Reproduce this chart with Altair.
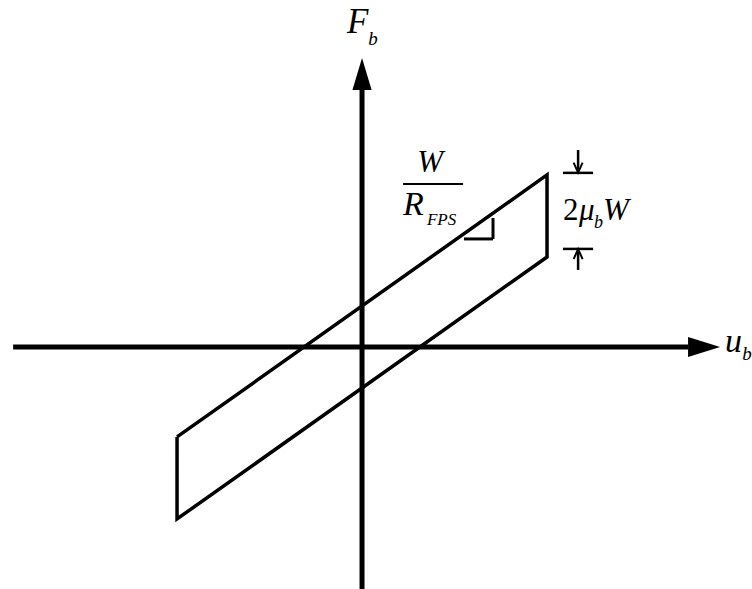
import altair as alt
import pandas as pd

# Friction pendulum bearing: force-displacement hysteresis loop.
# Displacement is normalised by the maximum displacement, force by the peak force.
loop_u = [-1.0, 1.0, 1.0, -1.0, -1.0]
loop_F = [-0.523, 1.0, 0.523, -1.0, -0.523]

# Coordinate axes (drawn as arrows through the origin)
axis_u0 = [-1.886, 0.0]
axis_u1 = [1.762, 0.0]
axis_F0 = [0.0, -1.55]
axis_F1 = [0.0, 1.494]

# Slope marker under the loading branch
slope_u0 = [0.551, 0.708]
slope_u1 = [0.708, 0.708]
slope_F0 = [0.628, 0.628]
slope_F1 = [0.628, 0.750]

# Dimension line for the loop height 2*mu*W
dim_u0 = [1.086, 1.086, 1.168, 1.168]
dim_u1 = [1.249, 1.249, 1.168, 1.168]
dim_F0 = [1.012, 0.570, 1.145, 0.448]
dim_F1 = [1.012, 0.570, 1.030, 0.552]

# Fraction bar of W / R_FPS
frac_u0 = [0.222]
frac_u1 = [0.546]
frac_F = [0.948]

X_DOMAIN = [-1.957, 2.108]
Y_DOMAIN = [-1.407, 2.017]
SERIF = "Liberation Serif"


def xs(field):
    return alt.X(field, type="quantitative",
                 scale=alt.Scale(domain=X_DOMAIN, nice=False, zero=False), axis=None)


def ys(field):
    return alt.Y(field, type="quantitative",
                 scale=alt.Scale(domain=Y_DOMAIN, nice=False, zero=False), axis=None)


def segments(u0, u1, F0, F1, width):
    df = pd.DataFrame({"u0": u0, "u1": u1, "F0": F0, "F1": F1})
    return alt.Chart(df).mark_rule(color="black", strokeWidth=width, strokeCap="butt").encode(
        x=xs("u0"), x2="u1", y=ys("F0"), y2="F1")


axes = segments(axis_u0, axis_u1, axis_F0, axis_F1, 5)
slope = segments(slope_u0, slope_u1, slope_F0, slope_F1, 3)
dims = segments(dim_u0, dim_u1, dim_F0, dim_F1, 2.5)
frac = segments(frac_u0, frac_u1, frac_F, frac_F, 2)

loop_df = pd.DataFrame({"u": loop_u, "F": loop_F, "i": list(range(len(loop_u)))})
loop = alt.Chart(loop_df).mark_line(color="black", strokeWidth=3.5, strokeJoin="miter").encode(
    x=xs("u"), y=ys("F"), order="i:O")

# Arrowheads
right_head = alt.Chart(pd.DataFrame({"u": [1.849], "F": [0.0]})).mark_point(
    shape="M-1,-0.62L1,0L-1,0.62Z", size=1024, filled=True, color="black", opacity=1
).encode(x=xs("u"), y=ys("F"))
up_head = alt.Chart(pd.DataFrame({"u": [0.0], "F": [1.587]})).mark_point(
    shape="M-0.6,1L0,-1L0.6,1Z", size=1024, filled=True, color="black", opacity=1
).encode(x=xs("u"), y=ys("F"))
down_tick = alt.Chart(pd.DataFrame({"u": [1.168], "F": [1.043]})).mark_point(
    shape="M-0.9,-1L0,1L0.9,-1", size=100, filled=False, color="black", strokeWidth=2, opacity=1
).encode(x=xs("u"), y=ys("F"))
up_tick = alt.Chart(pd.DataFrame({"u": [1.168], "F": [0.540]})).mark_point(
    shape="M-0.9,1L0,-1L0.9,1", size=100, filled=False, color="black", strokeWidth=2, opacity=1
).encode(x=xs("u"), y=ys("F"))

# Labels
lab_text = ["F", "b", "u", "b", "W", "R", "FPS", "μ", "b", "W"]
lab_u = [-0.081, 0.033, 1.962, 2.055, 0.368, 0.222, 0.351, 1.173, 1.254, 1.303]
lab_F = [1.826, 1.755, -0.029, -0.075, 1.017, 0.767, 0.709, 0.738, 0.692, 0.738]
lab_size = [35, 19, 34, 19, 31, 34, 17, 31, 18, 31]
lab_align = ["left", "left", "left", "left", "center", "left", "left", "left", "left", "left"]

lab_df = pd.DataFrame({"t": lab_text, "u": lab_u, "F": lab_F, "s": lab_size, "a": lab_align})


def label_layer(align):
    return alt.Chart(lab_df[lab_df["a"] == align]).mark_text(
        font=SERIF, fontStyle="italic", baseline="alphabetic", align=align, color="black"
    ).encode(x=xs("u"), y=ys("F"), text="t:N", size=alt.Size("s:Q", scale=None))


labels_left = label_layer("left")
labels_center = label_layer("center")

two = alt.Chart(pd.DataFrame({"t": ["2"], "u": [1.086], "F": [0.738]})).mark_text(
    font=SERIF, fontSize=31, baseline="alphabetic", align="left", color="black"
).encode(x=xs("u"), y=ys("F"), text="t:N")

chart = alt.layer(
    axes, loop, slope, dims, frac, right_head, up_head, down_tick, up_tick,
    labels_left, labels_center, two
).properties(
    width=752, height=589, padding=0, autosize=alt.AutoSizeParams(type="none"),
    background="white"
).configure_view(stroke=None)

chart.save("out.html", embed_options={"renderer": "svg", "actions": False})
